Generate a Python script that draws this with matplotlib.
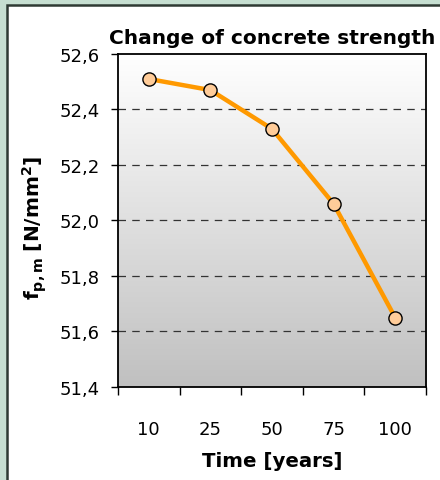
import numpy as np
import matplotlib
matplotlib.use('Agg')
import matplotlib.pyplot as plt
from matplotlib.patches import Rectangle

plt.rcParams['font.family'] = ['DejaVu Sans']
plt.rcParams['mathtext.fontset'] = 'dejavusans'

# data
years = ['10', '25', '50', '75', '100']
strength = [52.51, 52.47, 52.33, 52.06, 51.65]
y_ticks = [51.4, 51.6, 51.8, 52.0, 52.2, 52.4, 52.6]

fig = plt.figure(figsize=(4.4, 4.81), dpi=100)
fig.patch.set_facecolor('#c6dfd1')

# white panel with dark border on left/top
W, H = 440, 481
panel = Rectangle((7 / W, -0.05), 1.1, (H - 6) / H + 0.05, transform=fig.transFigure,
                  facecolor='white', edgecolor='#2e3a33', linewidth=1.8, zorder=-5)
fig.patches.append(panel)

ax = fig.add_axes([118 / W, 1 - 388 / H, (426 - 118) / W, (388 - 55) / H])
ax.set_zorder(2)
x = np.arange(len(years))

# gradient background (gray at bottom, white at top)
cmap = matplotlib.colors.LinearSegmentedColormap.from_list('g', ['#c0c0c0', '#ffffff'])
ax.imshow(np.linspace(0, 1, 256).reshape(-1, 1), cmap=cmap, aspect='auto',
          extent=[-0.5, len(years) - 0.5, 51.4, 52.6], origin='lower', zorder=0, vmin=0, vmax=1)

for yv in y_ticks[1:-1]:
    ax.axhline(yv, color='#333333', linewidth=0.9, linestyle=(0, (6, 5)), zorder=1)

ax.plot(x, strength, color='#ff9900', linewidth=3.2, zorder=3)
ax.plot(x, strength, 'o', markersize=9.5, markerfacecolor='#ffcc99',
        markeredgecolor='black', markeredgewidth=1.0, zorder=4)

ax.set_xlim(-0.5, len(years) - 0.5)
ax.set_ylim(51.4, 52.6)
ax.set_yticks(y_ticks)
ax.set_yticklabels([f'{v:.1f}'.replace('.', ',') for v in y_ticks], fontsize=13)
ax.set_xticks(x)
ax.set_xticklabels(years, fontsize=13)
ax.set_xticks(np.arange(-0.5, len(years)), minor=True)
ax.tick_params(axis='x', which='major', length=0, pad=24)
ax.tick_params(axis='x', which='minor', length=6, width=1, direction='out')
ax.tick_params(axis='y', length=5, width=1, direction='out', pad=8)

for s in ax.spines.values():
    s.set_color('black')
    s.set_linewidth(1.3)

ax.set_title('Change of concrete strength', fontsize=14.5, fontweight='bold', pad=8)
ax.set_xlabel('Time [years]', fontsize=14.2, fontweight='bold', labelpad=9)
ax.set_ylabel(r'$\mathbf{f_{p,m}\ [N/mm^2]}$', fontsize=14.5)
ax.yaxis.set_label_coords(-0.225, 0.48)

fig.savefig('out.png', dpi=100, facecolor=fig.get_facecolor())
